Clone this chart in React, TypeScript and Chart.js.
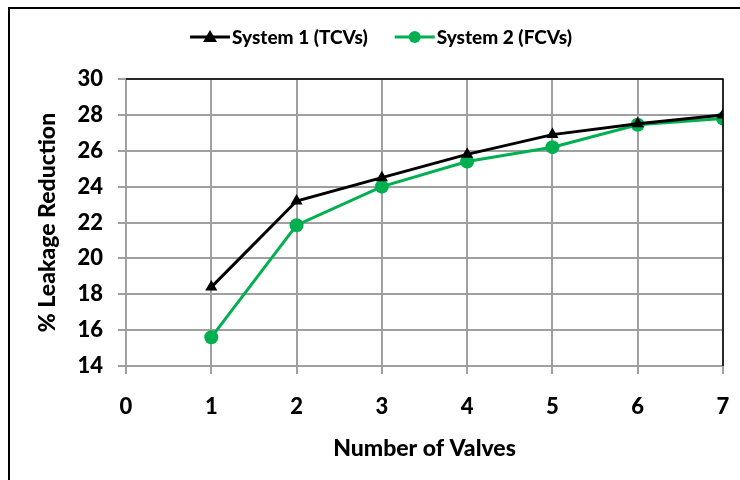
import React, { useEffect, useRef } from "react";
import { Chart, registerables } from "chart.js";

Chart.register(...registerables);

const valves = [1, 2, 3, 4, 5, 6, 7];
const system1 = [18.4, 23.2, 24.5, 25.8, 26.9, 27.5, 28.0];
const system2 = [15.6, 21.85, 24.0, 25.4, 26.2, 27.45, 27.8];
const seriesNames = ["System 1 (TCVs)", "System 2 (FCVs)"];
const xTitle = "Number of Valves";
const yTitle = "% Leakage Reduction";

const BLACK = "#000000";
const GREEN = "#00B050";
const GRID = "#A0A0A0";
const FONT = "Lato, 'Liberation Sans', sans-serif";

// custom legend drawn as line + marker + text, centred above the plot
const legendPlugin = {
  id: "customLegend",
  afterDraw(chart: any, _args: any, opts: any) {
    const ctx = chart.ctx;
    ctx.save();
    ctx.font = `900 19px ${FONT}`;
    ctx.textBaseline = "middle";
    ctx.textAlign = "left";
    const lineLen = 40;
    const textGap = 2;
    const itemGap = 27;
    const items = chart.data.datasets.map((d: any) => ({
      label: d.label,
      color: d.borderColor,
      style: d.pointStyle,
      w: ctx.measureText(d.label).width,
    }));
    const total =
      items.reduce((s: number, it: any) => s + lineLen + textGap + it.w, 0) + itemGap * (items.length - 1);
    let x = opts.centerX - total / 2;
    const y = opts.centerY;
    for (const it of items) {
      ctx.strokeStyle = it.color;
      ctx.fillStyle = it.color;
      ctx.lineWidth = 3;
      ctx.beginPath();
      ctx.moveTo(x, y);
      ctx.lineTo(x + lineLen, y);
      ctx.stroke();
      const cx = x + lineLen / 2;
      ctx.beginPath();
      if (it.style === "triangle") {
        ctx.moveTo(cx, y - 7);
        ctx.lineTo(cx + 7, y + 5);
        ctx.lineTo(cx - 7, y + 5);
        ctx.closePath();
      } else {
        ctx.arc(cx, y, 6, 0, Math.PI * 2);
      }
      ctx.fill();
      ctx.fillStyle = "#000";
      ctx.fillText(it.label, x + lineLen + textGap, y + 1);
      x += lineLen + textGap + it.w + itemGap;
    }
    ctx.restore();
  },
};

const framePlugin = {
  id: "frame",
  afterDraw(chart: any) {
    const ctx = chart.ctx;
    ctx.save();
    ctx.strokeStyle = "#000";
    ctx.lineWidth = 2;
    ctx.beginPath();
    ctx.moveTo(9, 480);
    ctx.lineTo(9, 8);
    ctx.lineTo(740, 8);
    ctx.stroke();
    const a = chart.chartArea;
    ctx.lineWidth = 1.5;
    ctx.beginPath();
    ctx.moveTo(a.left, a.top);
    ctx.lineTo(a.right, a.top);
    ctx.lineTo(a.right, a.bottom);
    ctx.stroke();
    ctx.restore();
  },
};

export default function App() {
  const ref = useRef<HTMLCanvasElement>(null);
  useEffect(() => {
    const chart = new Chart(ref.current!, {
      type: "line",
      data: {
        datasets: [
          {
            label: seriesNames[0],
            data: valves.map((v, i) => ({ x: v, y: system1[i] })),
            borderColor: BLACK,
            backgroundColor: BLACK,
            borderWidth: 3,
            pointStyle: "triangle",
            pointRadius: 7,
            pointBorderWidth: 0,
          },
          {
            label: seriesNames[1],
            data: valves.map((v, i) => ({ x: v, y: system2[i] })),
            borderColor: GREEN,
            backgroundColor: GREEN,
            borderWidth: 3,
            pointStyle: "circle",
            pointRadius: 7,
            pointBorderWidth: 0,
          },
        ],
      },
      options: {
        animation: false,
        responsive: false,
        layout: { padding: { top: 79, right: 17, left: 0, bottom: 0 } },
        plugins: {
          tooltip: { enabled: false },
          legend: { display: false },
          customLegend: { centerX: 381, centerY: 37 },
        } as any,
        scales: {
          x: {
            type: "linear",
            min: 0,
            max: 7,
            ticks: {
              stepSize: 1,
              color: "#000",
              padding: 20,
              font: { family: FONT, size: 22, weight: "900" },
            },
            grid: { color: GRID, lineWidth: 2, tickLength: 8, drawTicks: true },
            border: { color: GRID, width: 2 },
            title: {
              display: true,
              text: xTitle,
              color: "#000",
              font: { family: FONT, size: 23, weight: "900" },
              padding: { top: 0, bottom: 18 },
            },
            afterFit: (s: any) => {
              s.height = 114;
              s.paddingLeft = 0;
              s.paddingRight = 0;
            },
          },
          y: {
            min: 14,
            max: 30,
            ticks: {
              stepSize: 2,
              color: "#000",
              padding: 15,
              font: { family: FONT, size: 22, weight: "900" },
            },
            grid: { color: GRID, lineWidth: 2, tickLength: 8 },
            border: { color: GRID, width: 2 },
            title: {
              display: true,
              text: yTitle,
              color: "#000",
              font: { family: FONT, size: 23, weight: "900" },
              padding: { top: 34, bottom: 0 },
            },
            afterFit: (s: any) => {
              s.width = 126;
              s.paddingTop = 0;
              s.paddingBottom = 0;
            },
          },
        },
      },
      plugins: [framePlugin, legendPlugin],
    });
    return () => chart.destroy();
  }, []);
  return (
    <div style={{ position: "absolute", left: 0, top: 0, width: 740, height: 480, background: "#fff" }}>
      <canvas ref={ref} width={740} height={480} style={{ display: "block" }} />
    </div>
  );
}
